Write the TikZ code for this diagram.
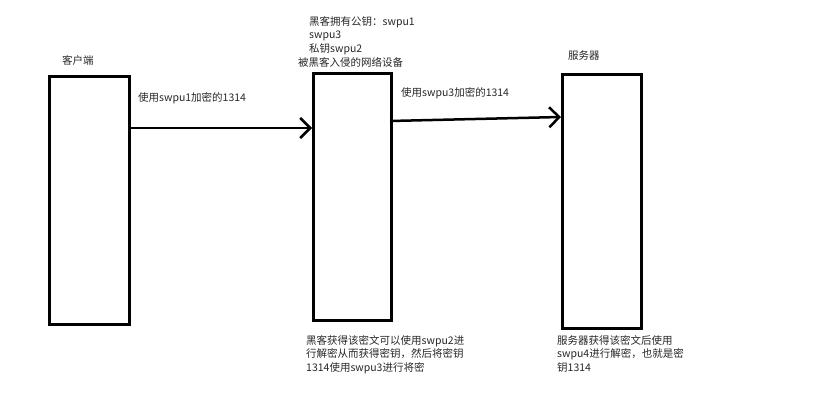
\documentclass[tikz,border=0pt]{standalone}
\usepackage{fontspec}
\setmainfont{Liberation Serif}
\newfontfamily\cjk{Noto Sans CJK SC}
\usetikzlibrary{arrows.meta}
\begin{document}
\begin{tikzpicture}[x=1pt,y=-1pt,
  devbox/.style={draw=black,line width=3pt,fill=white},
  lbl/.style={font=\cjk\fontsize{10.5}{13.5}\selectfont,text=black!85,inner sep=0pt,anchor=west,align=left},
  conn/.style={line width=2.5pt,-{Straight Barb[length=10pt,width=20pt,line width=2.5pt]}}]
\useasboundingbox (0,0) rectangle (832,419);
\node[devbox,minimum width=80pt,minimum height=248pt,anchor=north west] (client) at (48,75) {};
\node[devbox,minimum width=78pt,minimum height=247pt,anchor=north west] (mid) at (312,72) {};
\node[devbox,minimum width=79pt,minimum height=254pt,anchor=north west] (server) at (561,73) {};
\coordinate (a1) at (128,128);
\coordinate (a2) at (390,121);
\draw[conn] (a1) -- (a1 -| mid.west);
\draw[conn] (a2) -- (561,117);
\node[lbl] (t1) at (62,60) {客户端};
\node[lbl] (t2) at (138,98) {使用swpu1加密的1314};
\node[lbl,anchor=north west] (t3) at (309,16) {黑客拥有公钥：swpu1\\swpu3\\私钥swpu2};
\node[lbl] (t4) at (298,62) {被黑客入侵的网络设备};
\node[lbl] (t5) at (401,93) {使用swpu3加密的1314};
\node[lbl] (t6) at (568,56) {服务器};
\node[lbl,anchor=north west] (t7) at (306,335) {黑客获得该密文可以使用swpu2进\\行解密从而获得密钥，然后将密钥\\1314使用swpu3进行将密};
\node[lbl,anchor=north west] (t8) at (557,335) {服务器获得该密文后使用\\swpu4进行解密，也就是密\\钥1314};
\end{tikzpicture}
\end{document}
